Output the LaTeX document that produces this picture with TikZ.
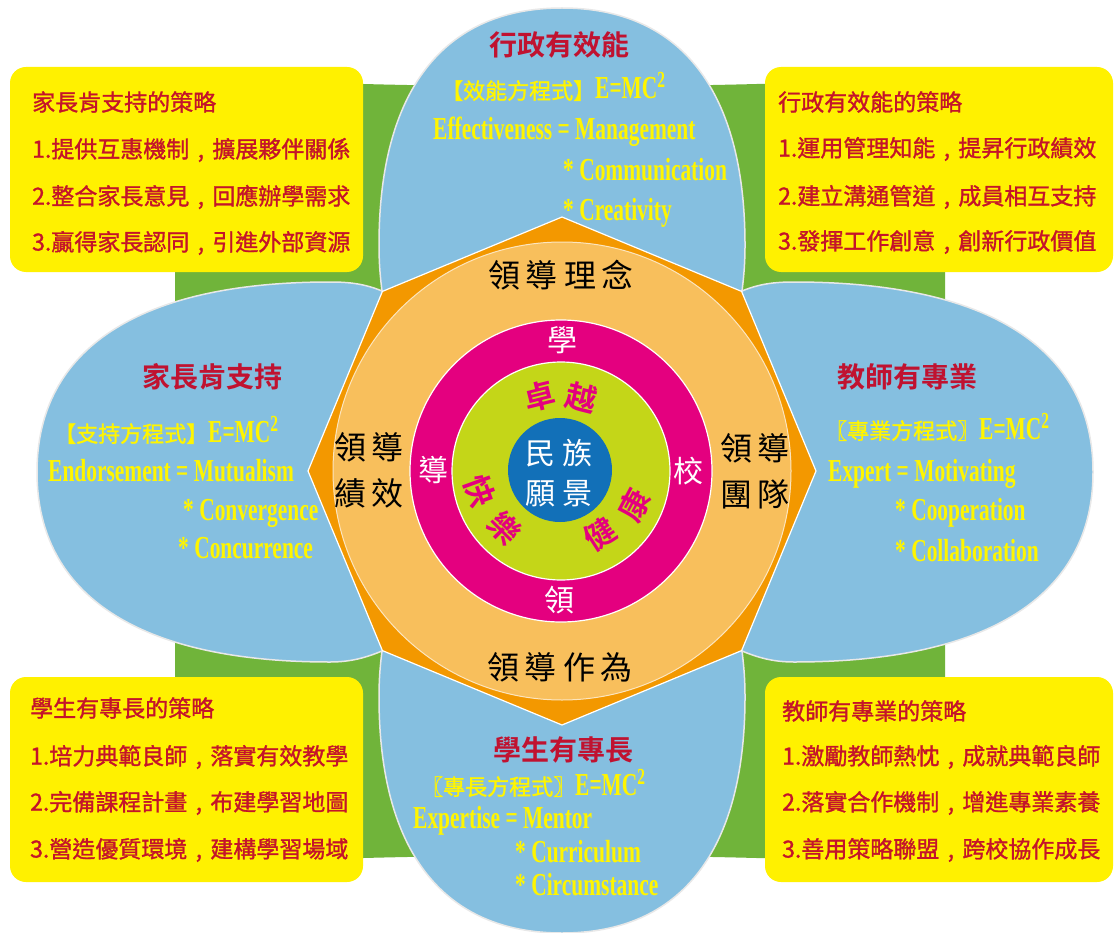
\documentclass[tikz,border=0pt]{standalone}
\usepackage{fontspec}
\newfontfamily\tc[Script=CJK,Language=Chinese Traditional]{Noto Sans CJK TC}
\newfontfamily\tcm[Script=CJK,Language=Chinese Traditional,FakeBold=1.3]{Noto Sans CJK TC}
\newfontfamily\tcb[Script=CJK,Language=Chinese Traditional]{Noto Sans CJK TC Bold}
\newfontfamily\enf[FakeStretch=0.67]{Liberation Serif Bold}
\definecolor{petalblue}{RGB}{133,191,224}
\definecolor{petalline}{RGB}{232,232,232}
\definecolor{greenbg}{RGB}{112,180,58}
\definecolor{boxyellow}{RGB}{255,241,0}
\definecolor{boxred}{RGB}{196,20,42}
\definecolor{titlered}{RGB}{192,18,48}
\definecolor{ytext}{RGB}{255,245,0}
\definecolor{octorange}{RGB}{243,152,0}
\definecolor{lightorange}{RGB}{248,191,92}
\definecolor{ringmag}{RGB}{228,0,127}
\definecolor{ygreen}{RGB}{196,214,24}
\definecolor{cblue}{RGB}{18,112,184}
\newcommand\EMCsq{{\enf\fontsize{32}{32}\selectfont E=MC\raisebox{11pt}{\fontsize{23}{23}\selectfont 2}}}
\newcommand\brk[1]{{\tcm\fontsize{22}{22}\selectfont #1}}
\newcommand\cma{\makebox[1em][c]{,}}
\tikzset{
  petal/.style={fill=petalblue, draw=petalline, line width=1.5pt},
  stratbox/.style={fill=boxyellow, rounded corners=16pt},
  boxtxt/.style={anchor=west, inner sep=0pt, text=boxred, font=\tcm\fontsize{23}{23}\selectfont},
  ptitle/.style={inner sep=0pt, text=titlered, font=\tcb\fontsize{28}{28}\selectfont},
  ylw/.style={anchor=base west, inner sep=0pt, text=ytext, font=\enf\fontsize{32}{32}\selectfont},
  ctrtxt/.style={inner sep=0pt, text=black, align=center, font=\tc\fontsize{32}{46}\selectfont},
  ringw/.style={inner sep=0pt, text=white, font=\tc\fontsize{30}{30}\selectfont},
  ringm/.style={inner sep=0pt, text=ringmag, font=\tcb\fontsize{31}{31}\selectfont},
  cwhite/.style={inner sep=0pt, text=white, align=center, font=\tc\fontsize{30}{40}\selectfont}
}
\begin{document}
\begin{tikzpicture}[x=1pt,y=-1pt]
\useasboundingbox (0,0) rectangle (1115,933);
\fill[white] (0,0) rectangle (1115,933);
% green background
\fill[greenbg] (175,76) .. controls (400,90) and (720,90) .. (945,76) -- (945,866)
  .. controls (720,852) and (400,852) .. (175,866) -- cycle;
% petals
\path[petal] (382,291) .. controls (380,275) and (379,262) .. (379,245)
  .. controls (379,91) and (443,8) .. (562,8)
  .. controls (681,8) and (745,91) .. (745,245)
  .. controls (745,262) and (744,275) .. (742,291) -- (562,471) -- cycle;
\path[petal] (382,651) .. controls (380,667) and (379,680) .. (379,697)
  .. controls (379,851) and (443,933) .. (562,933)
  .. controls (681,933) and (745,851) .. (745,697)
  .. controls (745,680) and (744,667) .. (742,651) -- (562,471) -- cycle;
\path[petal] (382,291) .. controls (365,284) and (350,282) .. (330,282)
  .. controls (140,282) and (37,348) .. (37,472)
  .. controls (37,596) and (140,662) .. (330,662)
  .. controls (350,662) and (365,658) .. (382,651) -- (562,471) -- cycle;
\path[petal] (742,291) .. controls (759,284) and (774,282) .. (794,282)
  .. controls (988,282) and (1093,348) .. (1093,472)
  .. controls (1093,596) and (988,662) .. (794,662)
  .. controls (774,662) and (759,658) .. (742,651) -- (562,471) -- cycle;
% octagon
\path[fill=octorange, draw=white, line width=1.2pt]
  (562,217) -- (382.4,291.4) -- (308,471) -- (382.4,650.6) -- (562,725)
  -- (741.6,650.6) -- (816,471) -- (741.6,291.4) -- cycle;
% circles
\path[fill=lightorange, draw=white!60!lightorange, line width=1pt] (562,471) circle[radius=229pt];
\path[fill=ringmag, draw=white, line width=1.2pt] (561,471) circle[radius=151pt];
\path[fill=ygreen, draw=white, line width=1.2pt] (561,471) circle[radius=109pt];
\path[fill=cblue] (560,470) circle[radius=52pt];
% strategy boxes
\path[stratbox] (10,67) rectangle (363,272);
\path[stratbox] (765,67) rectangle (1113,272);
\path[stratbox] (10,677) rectangle (363,882);
\path[stratbox] (765,677) rectangle (1113,882);
% box texts
\node[boxtxt] (tl0) at (32,102) {家長肯支持的策略};
\node[boxtxt] (tl1) at (32,150) {1.提供互惠機制\cma 擴展夥伴關係};
\node[boxtxt] (tl2) at (32,197) {2.整合家長意見\cma 回應辦學需求};
\node[boxtxt] (tl3) at (32,243) {3.贏得家長認同\cma 引進外部資源};
\node[boxtxt] (tr0) at (778,102) {行政有效能的策略};
\node[boxtxt] (tr1) at (778,149) {1.運用管理知能\cma 提昇行政績效};
\node[boxtxt] (tr2) at (778,197) {2.建立溝通管道\cma 成員相互支持};
\node[boxtxt] (tr3) at (778,242) {3.發揮工作創意\cma 創新行政價值};
\node[boxtxt] (bl0) at (30,708) {學生有專長的策略};
\node[boxtxt] (bl1) at (30,757) {1.培力典範良師\cma 落實有效教學};
\node[boxtxt] (bl2) at (30,803) {2.完備課程計畫\cma 布建學習地圖};
\node[boxtxt] (bl3) at (30,850) {3.營造優質環境\cma 建構學習場域};
\node[boxtxt] (br0) at (782,711) {教師有專業的策略};
\node[boxtxt] (br1) at (782,757) {1.激勵教師熱忱\cma 成就典範良師};
\node[boxtxt] (br2) at (782,803) {2.落實合作機制\cma 增進專業素養};
\node[boxtxt] (br3) at (782,850) {3.善用策略聯盟\cma 跨校協作成長};
% top petal text
\node[ptitle] (pt0) at (559,45) {行政有效能};
\node[ylw] (pt1) at (441,99) {\brk{【效能方程式】}\EMCsq};
\node[ylw] (pt2) at (433,140) {Effectiveness = Management};
\node[ylw] (pt3) at (563,181) {* Communication};
\node[ylw] (pt4) at (563,221) {* Creativity};
% left petal text
\node[ptitle] (pl0) at (212,377) {家長肯支持};
\node[ylw] (pl1) at (54,442) {\brk{【支持方程式】}\EMCsq};
\node[ylw] (pl2) at (48,481) {Endorsement = Mutualism};
\node[ylw] (pl3) at (183,520) {* Convergence};
\node[ylw] (pl4) at (178,558) {* Concurrence};
% right petal text
\node[ptitle] (pr0) at (907,377) {教師有專業};
\node[ylw] (pr1) at (825,439) {\brk{〖專業方程式〗}\EMCsq};
\node[ylw] (pr2) at (828,481) {Expert = Motivating};
\node[ylw] (pr3) at (895,520) {* Cooperation};
\node[ylw] (pr4) at (895,561) {* Collaboration};
% bottom petal text
\node[ptitle] (pb0) at (563,750) {學生有專長};
\node[ylw] (pb1) at (421,795) {\brk{〖專長方程式〗}\EMCsq};
\node[ylw] (pb2) at (413,828) {Expertise = Mentor};
\node[ylw] (pb3) at (515,862) {* Curriculum};
\node[ylw] (pb4) at (515,895) {* Circumstance};
% leadership ring texts
\node[ctrtxt] (c1) at (561,275) {領\hspace{6pt}導\hspace{6pt}理\hspace{6pt}念};
\node[ctrtxt] (c2) at (560,667) {領\hspace{6pt}導\hspace{6pt}作\hspace{6pt}為};
\node[ctrtxt] (c3) at (369,470) {領\hspace{6pt}導\\績\hspace{6pt}效};
\node[ctrtxt] (c4) at (755,471) {領\hspace{6pt}導\\團\hspace{6pt}隊};
% magenta ring
\node[ringw] (m1) at (562,340) {學};
\node[ringw] (m2) at (688,471) {校};
\node[ringw] (m3) at (559,600) {領};
\node[ringw] (m4) at (433,470) {導};
% green ring
\node[ringm, rotate=14] (g1) at (540,396) {卓};
\node[ringm, rotate=-14] (g2) at (581,398) {越};
\node[ringm, rotate=-70] (g3) at (480,491) {快};
\node[ringm, rotate=-45] (g4) at (505,528) {樂};
\node[ringm, rotate=33] (g5) at (600,534) {健};
\node[ringm, rotate=62] (g6) at (634,505) {康};
% center
\node[cwhite] (v) at (559,473) {民\hspace{8pt}族\\願\hspace{8pt}景};
\end{tikzpicture}
\end{document}
